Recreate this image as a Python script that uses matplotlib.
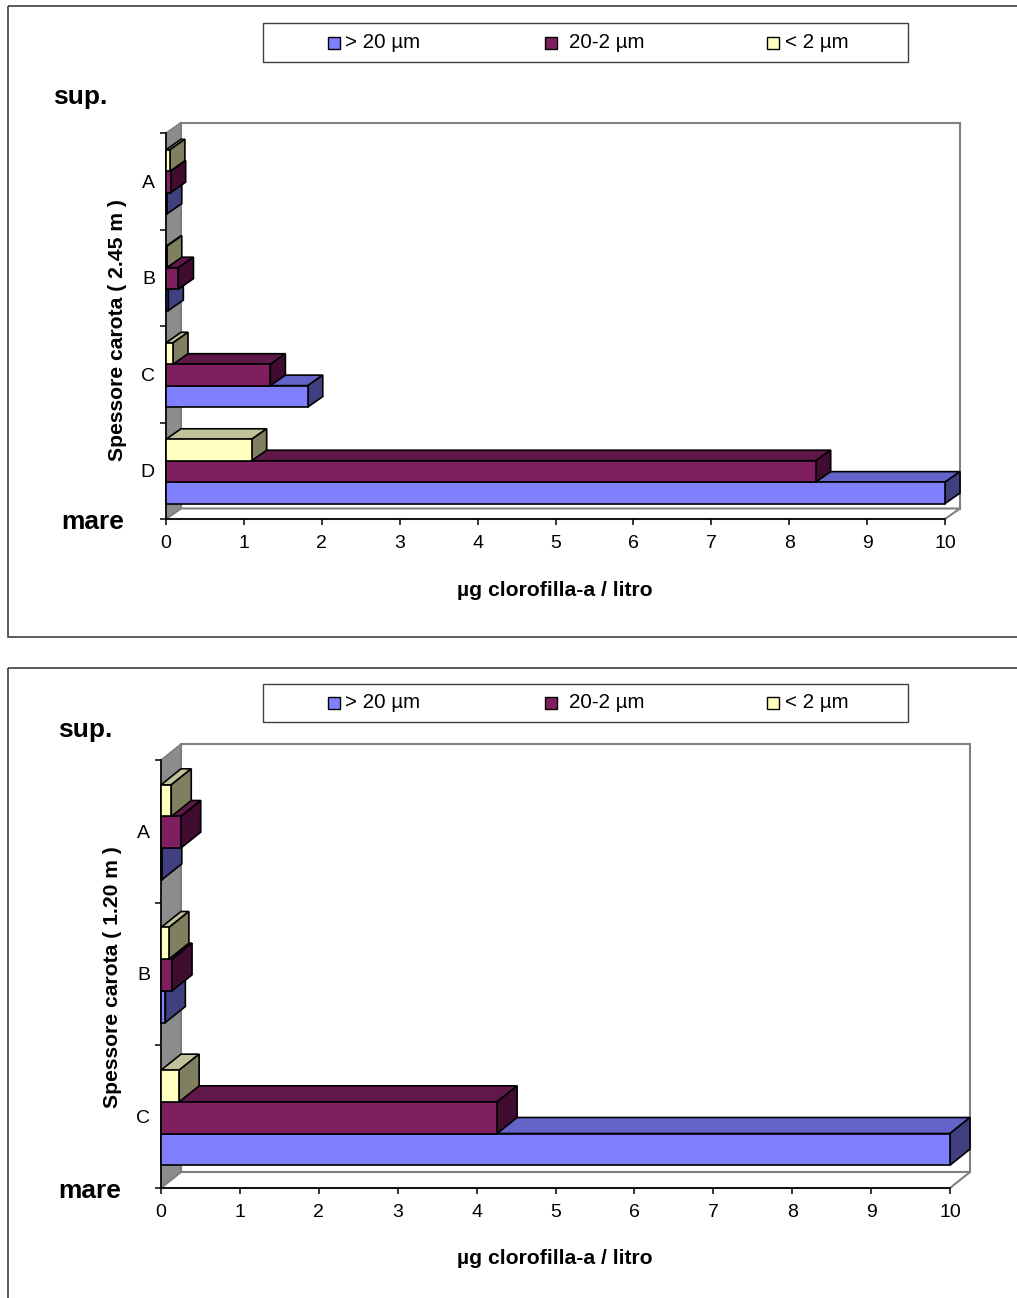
import matplotlib
matplotlib.use("Agg")
import matplotlib.pyplot as plt
from matplotlib.patches import Polygon, Rectangle

plt.rcParams["font.family"] = ["Liberation Sans", "DejaVu Sans"]

# ---- data -------------------------------------------------------------
series_labels = ["> 20 µm", "20-2 µm", "< 2 µm"]

st4_categories = ["A", "B", "C", "D"]
st4_gt20 = [0.01, 0.03, 1.82, 385]
st4_20_2 = [0.06, 0.16, 1.34, 8.34]
st4_lt2 = [0.05, 0.01, 0.09, 1.10]

st8_categories = ["A", "B", "C"]
st8_gt20 = [0.01, 0.055, 66]
st8_20_2 = [0.25, 0.14, 4.26]
st8_lt2 = [0.13, 0.10, 0.23]

x_ticks = list(range(0, 11))
x_max = 10

# front / top / side shades for each series
front_colors = ["#8080FF", "#7F1F5F", "#FFFFC0"]
top_colors = ["#6464C8", "#601848", "#C2C29A"]
side_colors = ["#404080", "#400C30", "#808060"]

W, H = 1017, 1298
fig = plt.figure(figsize=(W / 100, H / 100), dpi=100)

bg = fig.add_axes([0, 0, 1, 1])
bg.set_xlim(0, W)
bg.set_ylim(H, 0)
bg.axis("off")
bg.set_zorder(0)


def draw_chart(front_box, depth_px, categories, series):
    x0, x10, ybot, ytop = front_box
    n = len(categories)
    ax = fig.add_axes([x0 / W, 1 - ybot / H, (x10 - x0) / W, (ybot - ytop) / H])
    ax.set_zorder(1)
    ax.patch.set_visible(False)
    ax.set_xlim(0, x_max)
    ax.set_ylim(0, n)
    ddx = depth_px[0] * x_max / (x10 - x0)
    ddy = depth_px[1] * n / (ybot - ytop)

    # walls and floor
    ax.add_patch(Polygon([(0, 0), (ddx, ddy), (ddx, n + ddy), (0, n)],
                         closed=True, fc="#8c8c8c", ec="#7a7a7a", lw=1.0,
                         clip_on=False, zorder=1))
    ax.add_patch(Rectangle((ddx, ddy), x_max, n, fc="white", ec="#808080",
                           lw=1.5, clip_on=False, zorder=0.9))
    ax.add_patch(Polygon([(0, 0), (x_max, 0), (x_max + ddx, ddy), (ddx, ddy)],
                         closed=True, fc="white", ec="#808080", lw=1.5,
                         clip_on=False, zorder=1))

    bar_h = 0.222
    start = 0.16
    for i, cat in enumerate(categories):
        k = n - 1 - i
        for s, vals in enumerate(series):
            v = min(vals[i], x_max)
            y0 = k + start + s * bar_h
            y1 = y0 + bar_h
            z = 3 + 0.1 * s
            ax.add_patch(Polygon([(0, y1), (v, y1), (v + ddx, y1 + ddy), (ddx, y1 + ddy)],
                                 closed=True, fc=top_colors[s], ec="black", lw=1.2,
                                 clip_on=False, zorder=z))
            ax.add_patch(Polygon([(v, y0), (v + ddx, y0 + ddy), (v + ddx, y1 + ddy), (v, y1)],
                                 closed=True, fc=side_colors[s], ec="black", lw=1.2,
                                 clip_on=False, zorder=z))
            ax.add_patch(Rectangle((0, y0), v, bar_h, fc=front_colors[s], ec="black",
                                   lw=1.2, clip_on=False, zorder=z + 0.01))

    for side in ("top", "right"):
        ax.spines[side].set_visible(False)
    for side in ("left", "bottom"):
        ax.spines[side].set_color("black")
        ax.spines[side].set_linewidth(1.2)
        ax.spines[side].set_zorder(2)

    ax.set_xticks(x_ticks)
    ax.set_xticklabels([str(t) for t in x_ticks])
    ax.tick_params(axis="x", direction="out", length=4, width=1.1, pad=7.5,
                   labelsize=14)
    ax.set_yticks(range(n + 1))
    ax.set_yticklabels([])
    ax.tick_params(axis="y", which="major", direction="out", length=4, width=1.1)
    ax.set_yticks([k + 0.5 for k in range(n)], minor=True)
    ax.set_yticklabels(categories[::-1], minor=True)
    ax.tick_params(axis="y", which="minor", length=0, pad=8, labelsize=14)
    return ax


def draw_legend(box):
    lx0, ly0, lx1, ly1 = box
    bg.add_patch(Rectangle((lx0, ly0), lx1 - lx0, ly1 - ly0, fc="white",
                           ec="#404040", lw=1.0))
    yc = (ly0 + ly1) / 2
    for s, (mx, tx) in enumerate([(334, 345), (551, 569), (773, 785)]):
        bg.add_patch(Rectangle((mx - 6, yc - 6), 12, 12, fc=front_colors[s],
                               ec="black", lw=1.0))
        bg.text(tx, yc, series_labels[s], ha="left", va="center", fontsize=14.8)


# ---- St. 4 -------------------------------------------------------------
bg.add_patch(Rectangle((8, 6), W + 10, 631, fc="none", ec="#404040", lw=1.2))
draw_legend((263, 23, 908, 62))
draw_chart((166, 945, 519, 133), (15, 10.5), st4_categories,
           [st4_gt20, st4_20_2, st4_lt2])
bg.text(80, 97, "sup.", ha="center", va="center", fontsize=19, weight="bold")
bg.text(93, 522, "mare", ha="center", va="center", fontsize=19, weight="bold")
bg.text(911, 158, "St. 4 (31 dic. 1995)", ha="right", va="center",
        fontsize=19, weight="bold")
bg.text(906, 390, str(st4_gt20[3]), ha="center", va="center", fontsize=19,
        weight="bold")
bg.text(118, 330, "Spessore carota ( 2.45 m )", ha="center", va="center",
        rotation=90, fontsize=15.2, weight="bold")
bg.text(555, 590, "µg clorofilla-a / litro", ha="center", va="center",
        fontsize=15.2, weight="bold")

# ---- St. 8 -------------------------------------------------------------
bg.add_patch(Rectangle((8, 668), W + 10, 640, fc="none", ec="#404040", lw=1.2))
draw_legend((263, 684, 908, 722))
draw_chart((161, 950, 1188, 760), (20, 16), st8_categories,
           [st8_gt20, st8_20_2, st8_lt2])
bg.text(85, 730, "sup.", ha="center", va="center", fontsize=19, weight="bold")
bg.text(90, 1191, "mare", ha="center", va="center", fontsize=19, weight="bold")
bg.text(831, 794, "St. 8 (3 gen. 1996)", ha="center", va="center",
        fontsize=19, weight="bold")
bg.text(894, 1034, str(st8_gt20[2]), ha="center", va="center", fontsize=19,
        weight="bold")
bg.text(113, 977, "Spessore carota ( 1.20 m )", ha="center", va="center",
        rotation=90, fontsize=15.2, weight="bold")
bg.text(555, 1259, "µg clorofilla-a / litro", ha="center", va="center",
        fontsize=15.2, weight="bold")

fig.savefig("out.png", dpi=100, facecolor="white")
